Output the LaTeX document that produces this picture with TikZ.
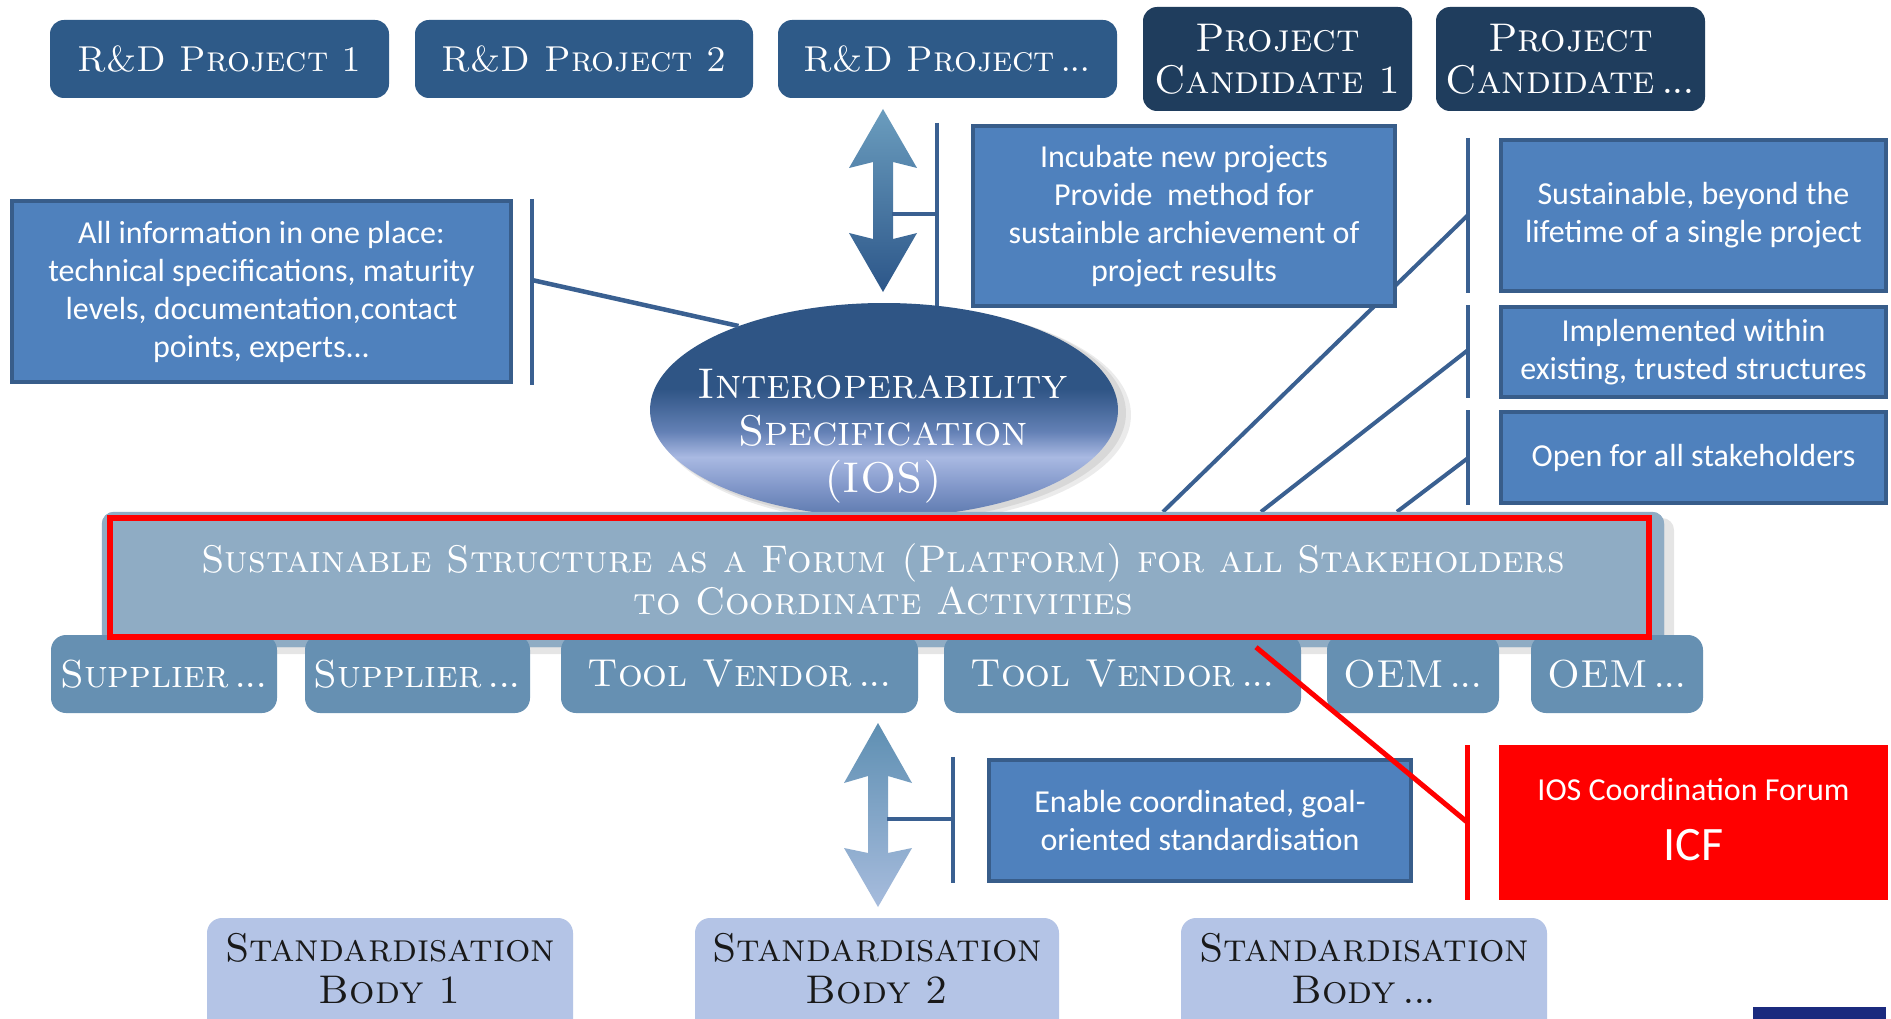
\documentclass[tikz,border=0pt]{standalone}
\usepackage{fontspec}
\newfontfamily\calfont{Carlito}
\usetikzlibrary{shapes.geometric}
\definecolor{boxblue}{HTML}{4F81BD}
\definecolor{boxborder}{HTML}{385D8A}
\definecolor{linkblue}{HTML}{3A6091}
\definecolor{rdblue}{HTML}{2E5A88}
\definecolor{candblue}{HTML}{1F3D5D}
\definecolor{stakeblue}{HTML}{6690B2}
\definecolor{platblue}{HTML}{8FACC4}
\definecolor{stdblue}{HTML}{B4C4E6}
\definecolor{icfred}{HTML}{FF0000}
\definecolor{navyblue}{HTML}{1B2A7E}
\definecolor{iosT}{HTML}{2F5585}
\definecolor{iosM}{HTML}{6380B5}
\definecolor{iosL}{HTML}{A9B9E2}
\definecolor{iosB}{HTML}{8197C9}
\definecolor{iosC}{HTML}{5C79AE}
\definecolor{arrAtop}{HTML}{6B9DBE}
\definecolor{arrAbot}{HTML}{2C5689}
\definecolor{arrBtop}{HTML}{5E8FB2}
\definecolor{arrBbot}{HTML}{A7BCDD}
\pgfdeclareverticalshading{iosshade}{100bp}{color(0bp)=(iosC); color(25bp)=(iosC); color(32bp)=(iosB); color(39bp)=(iosL); color(45bp)=(iosM); color(55bp)=(iosT); color(100bp)=(iosT)}
\newcommand{\dts}{\hspace{0.15em}.\kern-0.05em.\kern-0.05em.}
\begin{document}
\begin{tikzpicture}[x=1pt,y=-1pt,
  infobox/.style={draw=boxborder, line width=4pt, fill=boxblue, text=white, font=\calfont\fontsize{32}{38}\selectfont, align=center, inner sep=0pt, minimum width=385, minimum height=90},
  topbox/.style={fill=#1, rounded corners=14pt, text=white, font=\scshape\fontsize{36}{42}\selectfont, align=center, inner sep=0pt, minimum height=78},
  stakebox/.style={fill=stakeblue, rounded corners=15pt, text=white, font=\scshape\fontsize{39}{44}\selectfont, align=center, inner sep=0pt, minimum height=78},
  stdtext/.style={text=black!90, font=\scshape\fontsize{40}{42}\selectfont, align=center, inner sep=0pt},
  bracket/.style={draw=linkblue, line width=4.5pt},
  redline/.style={draw=icfred, line width=5pt},
]
\useasboundingbox (0,0) rectangle (1891,1019);
\clip (0,0) rectangle (1891,1019);
\fill[white] (0,0) rectangle (1891,1019);

% ---- top row
\node[topbox=rdblue, minimum width=339] (rd1) at (219.5,59) {R\&D Project 1};
\node[topbox=rdblue, minimum width=338] (rd2) at (584,59) {R\&D Project 2};
\node[topbox=rdblue, minimum width=339] (rd3) at (947.5,59) {R\&D Project\dts};
\node[topbox=candblue, minimum width=269, minimum height=104, font=\scshape\fontsize{40}{42}\selectfont] (cand1) at (1277.5,59) {Project\\Candidate 1};
\node[topbox=candblue, minimum width=269, minimum height=104, font=\scshape\fontsize{40}{42}\selectfont] (cand2) at (1570.5,59) {Project\\Candidate\dts};

% ---- bracket coordinates
\coordinate (lbT) at (532,199); \coordinate (lbB) at (532,385); \coordinate (lbM) at (532,280);
\coordinate (ubT) at (937,123); \coordinate (ubB) at (937,307); \coordinate (ubM) at (937,214);
\coordinate (uaR) at (892,214);
\coordinate (rb1T) at (1468,138); \coordinate (rb1B) at (1468,293); \coordinate (rb1M) at (1468,215);
\coordinate (rb2T) at (1468,305); \coordinate (rb2B) at (1468,398); \coordinate (rb2M) at (1468,350);
\coordinate (rb3T) at (1468,410); \coordinate (rb3B) at (1468,505); \coordinate (rb3M) at (1468,458);
\coordinate (lwT) at (953,757); \coordinate (lwB) at (953,883); \coordinate (lwM) at (953,819);
\coordinate (laR) at (887,819);
\coordinate (rvT) at (1467,745); \coordinate (rvB) at (1467,900); \coordinate (rvM) at (1467,822);

% ---- platform (node first for references)
\fill[black, opacity=0.10, rounded corners=12pt] (108,518) rectangle (1674,654);
\node[fill=platblue, rounded corners=12pt, minimum width=1562, minimum height=135, inner sep=0pt] (plat) at (883,579.5) {};

% diagonal lines to platform
\draw[bracket, line width=4pt] (rb1M) -- (1163,0 |- plat.north);
\draw[bracket, line width=4pt] (rb2M) -- (1261,0 |- plat.north);
\draw[bracket, line width=4pt] (rb3M) -- (1397,0 |- plat.north);

% ---- info boxes
\node[infobox, minimum width=499, minimum height=181] (info) at (261.5,291.5) {All information in one place:\\technical specifications, maturity\\levels, documentation,contact\\points, experts...};
\node[infobox, minimum width=422, minimum height=180] (incub) at (1184,216) {Incubate new projects\\Provide\ \ method for\\sustainble archievement of\\project results};
\node[infobox, minimum height=151] (r1) at (1693.5,215.5) {Sustainable, beyond the\\lifetime of a single project};
\node[infobox] (r2) at (1693.5,352) {Implemented within\\existing, trusted structures};
\node[infobox, minimum height=91] (r3) at (1693.5,457.5) {Open for all stakeholders};
\node[infobox, minimum width=422, minimum height=121] (enable) at (1200,820.5) {Enable coordinated, goal-\\oriented standardisation};
\node[fill=icfred, minimum width=389, minimum height=155, inner sep=0pt] (icf) at (1693.5,822.5) {};
\node[text=white, align=center, inner sep=0pt, font=\calfont\fontsize{32}{60}\selectfont] (icftext) at (1693.5,820) {IOS Coordination Forum\\{\fontsize{48}{60}\selectfont ICF}};

% ---- brackets
\draw[bracket] (lbT) -- (lbB);
\draw[bracket] (ubT) -- (ubB);
\draw[bracket] (rb1T) -- (rb1B);
\draw[bracket] (rb2T) -- (rb2B);
\draw[bracket] (rb3T) -- (rb3B);
\draw[bracket] (lwT) -- (lwB);
\draw[redline] (rvT) -- (rvB);

% ---- ellipse
\fill[black, opacity=0.08] (893,415) ellipse [x radius=238, y radius=109];
\fill[black, opacity=0.08] (890,413) ellipse [x radius=236, y radius=108];
\node[ellipse, minimum width=468, minimum height=214, inner sep=0pt, shade, shading=iosshade] (ios) at (884,410) {};
\node[text=white, font=\scshape\fontsize{43}{47}\selectfont, align=center, inner sep=0pt] (iostext) at (883,436) {Interoperability\\Specification\\(IOS)};
\draw[bracket] (lbM) -- (ios.150);

% ---- arrows
\shade[top color=arrAtop, bottom color=arrAbot] (883,109) -- (917,168) -- (893,162) -- (893,239) -- (917,233) -- (883,292) -- (849,233) -- (873,239) -- (873,162) -- (849,168) -- cycle;
\draw[bracket, line width=4pt] (uaR) -- (ubM);
\shade[top color=arrBtop, bottom color=arrBbot] (878,723) -- (912,783) -- (888,776) -- (888,853) -- (912,848) -- (878,907) -- (844,848) -- (868,853) -- (868,776) -- (844,783) -- cycle;
\draw[bracket, line width=4pt] (laR) -- (lwM);

% ---- platform redraw on top of ellipse bottom
\fill[platblue, rounded corners=12pt] (plat.north west) rectangle (plat.south east);

% ---- stakeholders
\node[stakebox, minimum width=226] (sup1) at (164,674) {Supplier\dts};
\node[stakebox, minimum width=225] (sup2) at (417.5,674) {Supplier\dts};
\node[stakebox, minimum width=357] (tv1) at (739.5,674) {Tool Vendor\dts};
\node[stakebox, minimum width=357] (tv2) at (1122.5,674) {Tool Vendor\dts};
\node[stakebox, minimum width=172] (oem1) at (1413,674) {OEM\dts};
\node[stakebox, minimum width=172] (oem2) at (1617,674) {OEM\dts};

% ---- platform text
\node[text=white, font=\scshape\fontsize{38.5}{42}\selectfont, align=center, inner sep=0pt] (plattext) at (883,579) {Sustainable Structure as a Forum (Platform) for all Stakeholders\\to Coordinate Activities};

% red frame
\draw[icfred, line width=6pt] (110,518) rectangle (1649,637);
\draw[redline] (1256,0 |- plat.south) coordinate (rdA) -- (rvM);

% ---- standardisation bodies
\fill[stdblue] (207,1060) [rounded corners=15pt] -- (207,918) -- (573,918) [sharp corners] -- (573,1060) -- cycle;
\fill[stdblue] (695,1060) [rounded corners=15pt] -- (695,918) -- (1059,918) [sharp corners] -- (1059,1060) -- cycle;
\fill[stdblue] (1181,1060) [rounded corners=15pt] -- (1181,918) -- (1547,918) [sharp corners] -- (1547,1060) -- cycle;
\node[stdtext] (sb1) at (390,969) {Standardisation\\Body 1};
\node[stdtext] (sb2) at (877,969) {Standardisation\\Body 2};
\node[stdtext] (sb3) at (1364,969) {Standardisation\\Body\dts};

\fill[navyblue] (1753,1007) rectangle (1886,1019);
\end{tikzpicture}
\end{document}
